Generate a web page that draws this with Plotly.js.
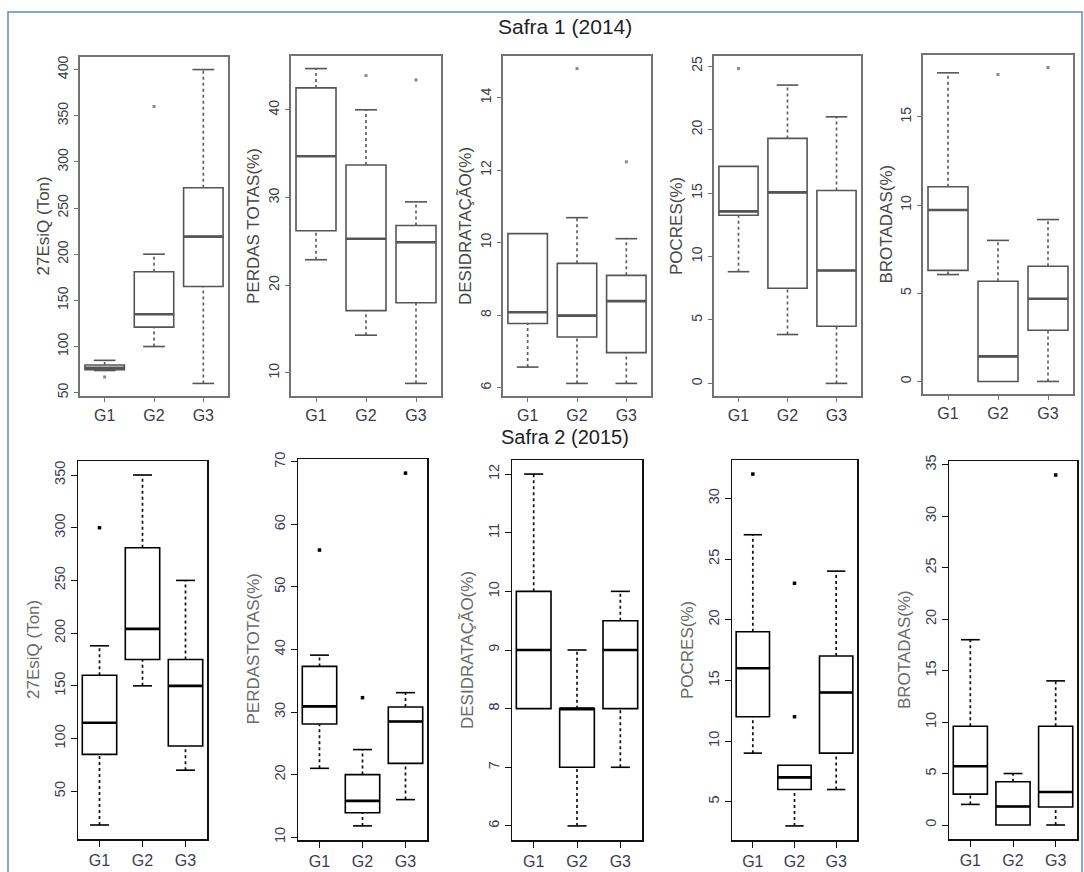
<!DOCTYPE html>
<html>
<head>
<meta charset="utf-8">
<script src="https://cdn.plot.ly/plotly-3.0.1.min.js"></script>
<style>
  html, body { margin: 0; padding: 0; background: #ffffff; }
  #chart { width: 1084px; height: 872px; }
</style>
</head>
<body>
<div id="chart"></div>
<script>
// Groups on the x axis of every panel
const groups = ['G1', 'G2', 'G3'];

// Each row: [lower whisker, Q1, median, Q3, upper whisker] for G1, G2, G3
// Safra 1 (2014)
const prod2014   = [[74, 75, 77, 80, 85], [100, 121, 135, 181, 200], [60, 165, 219, 272, 400]];
const prod2014Out   = [[67], [360], []];
const perdas2014 = [[22.9, 26.2, 34.7, 42.5, 44.7], [14.3, 17.1, 25.3, 33.7, 40], [8.8, 18.0, 24.9, 26.8, 29.5]];
const perdas2014Out = [[], [43.9], [43.4]];
const desid2014  = [[6.57, 7.77, 8.08, 10.25, 10.25], [6.12, 7.4, 7.99, 9.43, 10.69], [6.12, 6.97, 8.39, 9.1, 10.11]];
const desid2014Out  = [[], [14.8], [12.23]];
const podres2014 = [[8.8, 13.25, 13.55, 17.1, 17.1], [3.85, 7.5, 15.05, 19.3, 23.5], [0, 4.5, 8.9, 15.2, 21]];
const podres2014Out = [[24.8], [], []];
const brot2014   = [[6.06, 6.3, 9.72, 11.04, 17.5], [0, 0, 1.42, 5.68, 8], [0, 2.9, 4.69, 6.53, 9.18]];
const brot2014Out   = [[], [17.4], [17.8]];

// Safra 2 (2015)
const prod2015   = [[18, 85, 115, 160, 188], [150, 175, 204, 281, 350], [70, 93, 150, 175, 250]];
const prod2015Out   = [[300], [], []];
const perdas2015 = [[21, 28.1, 30.9, 37.3, 39.1], [11.8, 13.9, 15.8, 20, 24], [16, 21.8, 28.5, 30.8, 33.1]];
const perdas2015Out = [[55.9], [32.3], [68.2]];
const desid2015  = [[8, 8, 9, 10, 12], [6, 7, 8, 8, 9], [7, 8, 9, 9.5, 10]];
const desid2015Out  = [[], [], []];
const podres2015 = [[9, 12, 16, 19, 27], [3, 6, 7, 8, 8], [6, 9, 14, 17, 24]];
const podres2015Out = [[32], [12, 23], []];
const brot2015   = [[2, 3, 5.7, 9.6, 18], [0, 0, 1.8, 4.2, 5], [0, 1.75, 3.2, 9.6, 14]];
const brot2015Out   = [[], [], [34]];

const yTitles2014 = ['27EsiQ (Ton)', 'PERDAS TOTAS(%)', 'DESIDRATAÇÃO(%)', 'POCRES(%)', 'BROTADAS(%)'];
const yTitles2015 = ['27EsiQ (Ton)', 'PERDASTOTAS(%)', 'DESIDRATAÇÃO(%)', 'POCRES(%)', 'BROTADAS(%)'];
const rowTitles = ['Safra 1 (2014)', 'Safra 2 (2015)'];

// ---- page geometry (pixels) ----
const W = 1084, H = 872;

// plot frames [left, top, right, bottom] in pixels, tick step per panel
const panels = [
  { stats: prod2014,   out: prod2014Out,   title: yTitles2014[0], dtick: 50, frame: [80, 57, 228, 396],  row: 0 },
  { stats: perdas2014, out: perdas2014Out, title: yTitles2014[1], dtick: 10, frame: [291, 56, 441, 396], row: 0 },
  { stats: desid2014,  out: desid2014Out,  title: yTitles2014[2], dtick: 2,  frame: [503, 56, 651, 396], row: 0 },
  { stats: podres2014, out: podres2014Out, title: yTitles2014[3], dtick: 5,  frame: [714, 56, 861, 396], row: 0 },
  { stats: brot2014,   out: brot2014Out,   title: yTitles2014[4], dtick: 5,  frame: [923, 55, 1073, 394], row: 0 },
  { stats: prod2015,   out: prod2015Out,   title: yTitles2015[0], dtick: 50, frame: [78, 461, 207, 839],  row: 1 },
  { stats: perdas2015, out: perdas2015Out, title: yTitles2015[1], dtick: 10, frame: [298, 459, 427, 840], row: 1 },
  { stats: desid2015,  out: desid2015Out,  title: yTitles2015[2], dtick: 1,  frame: [512, 460, 642, 840], row: 1 },
  { stats: podres2015, out: podres2015Out, title: yTitles2015[3], dtick: 5,  frame: [732, 460, 857, 840], row: 1 },
  { stats: brot2015,   out: brot2015Out,   title: yTitles2015[4], dtick: 5,  frame: [949, 461, 1077, 839], row: 1 }
];

// row styles: the 2014 row is drawn in soft grey, the 2015 row in black
const rowStyle = [
  { line: '#555555', frame: '#737373', frameW: 2, whisker: '#606060', out: '#8a8a8a', outSize: 3,
    tick: '#3b3b48', title: '#474747', ticklen: 4, titleGap: 37, tickSize: 14 },
  { line: '#000000', frame: '#111111', frameW: 1.5, whisker: '#111111', out: '#000000', outSize: 3.5,
    tick: '#3b3b55', title: '#6a6a6a', ticklen: 6, titleGap: 45, tickSize: 14.5 }
];

const BOX_W = 0.8, CAP_HALF = 0.22;

const traces = [];
const layout = {
  width: W, height: H,
  margin: { l: 0, r: 0, t: 0, b: 0 },
  paper_bgcolor: '#ffffff', plot_bgcolor: '#ffffff',
  showlegend: false,
  font: { family: 'Liberation Sans, Arial, sans-serif' },
  annotations: [],
  shapes: [{
    type: 'rect', xref: 'paper', yref: 'paper',
    x0: 8 / W, x1: 1082 / W, y0: -0.02, y1: 1 - 12 / H,
    line: { color: '#5b8bd0', width: 1.5 }
  }]
};

panels.forEach((p, i) => {
  const k = i + 1;
  const xa = 'x' + k, ya = 'y' + k;
  const st = rowStyle[p.row];
  const [fx0, fy0, fx1, fy1] = p.frame;

  // y range: data extent padded by 4% on each side
  let lo = Infinity, hi = -Infinity;
  p.stats.forEach((s, g) => {
    lo = Math.min(lo, s[0]); hi = Math.max(hi, s[4]);
    p.out[g].forEach(v => { lo = Math.min(lo, v); hi = Math.max(hi, v); });
  });
  const pad = (hi - lo) * 0.04;

  const axisCommon = {
    showline: true, mirror: true, linecolor: st.frame, linewidth: st.frameW,
    showgrid: false, zeroline: false, ticks: 'outside', ticklen: st.ticklen,
    tickcolor: st.frame, tickwidth: 1, fixedrange: true
  };
  layout['xaxis' + k] = Object.assign({}, axisCommon, {
    domain: [fx0 / W, fx1 / W], anchor: ya,
    range: [0.5, 3.5], tickmode: 'array', tickvals: [1, 2, 3], ticktext: groups,
    tickfont: { size: 16, color: st.tick }
  });
  layout['yaxis' + k] = Object.assign({}, axisCommon, {
    domain: [1 - fy1 / H, 1 - fy0 / H], anchor: xa,
    range: [lo - pad, hi + pad], tick0: 0, dtick: p.dtick, tickangle: -90,
    tickfont: { size: st.tickSize, color: st.tick }
  });

  // y-axis title
  layout.annotations.push({
    xref: 'paper', yref: 'paper',
    x: (fx0 - st.titleGap) / W, y: 1 - ((fy0 + fy1) / 2) / H,
    text: p.title, textangle: -90, showarrow: false,
    xanchor: 'center', yanchor: 'middle',
    font: { size: 17, color: st.title }
  });

  // boxes (Q1, median, Q3)
  p.stats.forEach((s, g) => {
    traces.push({
      type: 'box', xaxis: xa, yaxis: ya,
      x: [g + 1], q1: [s[1]], median: [s[2]], q3: [s[3]],
      lowerfence: [s[1]], upperfence: [s[3]],
      width: BOX_W, whiskerwidth: 0, boxpoints: false,
      fillcolor: 'rgba(255,255,255,0)',
      line: { color: st.line, width: 1.6 },
      hoverinfo: 'skip'
    });
  });

  // dotted whiskers, solid staples, heavy medians, outliers
  const wx = [], wy = [], cx = [], cy = [], mx = [], my = [], ox = [], oy = [];
  p.stats.forEach((s, g) => {
    const c = g + 1;
    if (s[0] < s[1]) {
      wx.push(c, c, null); wy.push(s[0], s[1], null);
      cx.push(c - CAP_HALF, c + CAP_HALF, null); cy.push(s[0], s[0], null);
    }
    if (s[4] > s[3]) {
      wx.push(c, c, null); wy.push(s[3], s[4], null);
      cx.push(c - CAP_HALF, c + CAP_HALF, null); cy.push(s[4], s[4], null);
    }
    mx.push(c - BOX_W / 2, c + BOX_W / 2, null); my.push(s[2], s[2], null);
    p.out[g].forEach(v => { ox.push(c); oy.push(v); });
  });
  traces.push({
    type: 'scatter', mode: 'lines', xaxis: xa, yaxis: ya, x: wx, y: wy,
    line: { color: st.whisker, width: 1.7, dash: 'dot' }, hoverinfo: 'skip'
  });
  traces.push({
    type: 'scatter', mode: 'lines', xaxis: xa, yaxis: ya, x: cx, y: cy,
    line: { color: st.line, width: 1.6 }, hoverinfo: 'skip'
  });
  traces.push({
    type: 'scatter', mode: 'lines', xaxis: xa, yaxis: ya, x: mx, y: my,
    line: { color: st.line, width: 2.6 }, hoverinfo: 'skip'
  });
  traces.push({
    type: 'scatter', mode: 'markers', xaxis: xa, yaxis: ya, x: ox, y: oy,
    marker: { symbol: 'square', size: st.outSize, color: st.out }, hoverinfo: 'skip'
  });
});

// row headings
layout.annotations.push({
  xref: 'paper', yref: 'paper', x: 565 / W, y: 1 - 27 / H,
  text: rowTitles[0], showarrow: false, xanchor: 'center', yanchor: 'middle',
  font: { size: 21, color: '#1e1e28' }
});
layout.annotations.push({
  xref: 'paper', yref: 'paper', x: 565 / W, y: 1 - 437 / H,
  text: rowTitles[1], showarrow: false, xanchor: 'center', yanchor: 'middle',
  font: { size: 20, color: '#1e1e28' }
});

Plotly.newPlot('chart', traces, layout, { staticPlot: true, displayModeBar: false });
</script>
</body>
</html>
